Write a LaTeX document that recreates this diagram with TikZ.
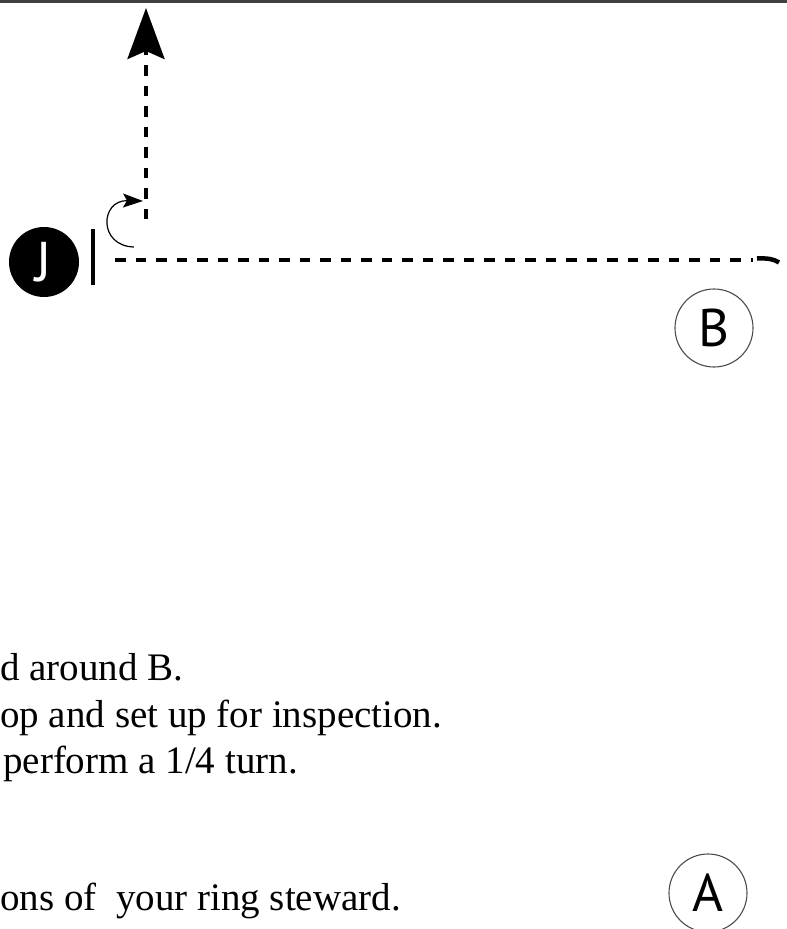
\documentclass[tikz,border=0pt]{standalone}
\usepackage{fontspec}
\setmainfont{Liberation Serif}
\newfontfamily\markerfont{PT Sans}
\usetikzlibrary{arrows.meta}

\begin{document}
\begin{tikzpicture}[x=1pt,y=-1pt,
  rider node/.style={circle,fill=black,text=white,minimum size=70pt,inner sep=0pt,font=\markerfont\fontsize{56}{56}\selectfont},
  letter node/.style={circle,draw=black!70,line width=1.1pt,minimum size=78pt,inner sep=0pt,font=\markerfont\fontsize{53}{53}\selectfont},
  route/.style={line width=4pt,dash pattern=on 10.5pt off 10pt},
  text line/.style={anchor=base west,inner sep=0pt,font=\fontsize{39}{46}\selectfont}]

  \useasboundingbox (0,0) rectangle (787,929);
  \clip (0,0) rectangle (787,929);
  \draw[black!75,line width=2.6pt] (0,1.3) -- (787,1.3);

  \node[rider node] (J) at (44,262) {J};
  \node[letter node] (B) at (714,328) {B};
  \node[letter node] (A) at (708,893) {A};

  \coordinate (BarTop) at (92.5,229);
  \coordinate (BarBottom) at (92.5,285);
  \coordinate (Start) at (115,260);
  \coordinate (Corner) at (753,260);
  \coordinate (BendIn) at (757,258.5);
  \coordinate (BendOut) at (779,262.5);
  \coordinate (Turn) at (146,219);
  \coordinate (Exit) at (146,8);
  \coordinate (SpinFrom) at (134,247);
  \coordinate (SpinTo) at (143,201);

  \draw[line width=4pt] (BarTop) -- (BarBottom);
  \path[route]
    (Start) edge (Corner)
    (Turn) edge[-{Stealth[length=51pt,width=37pt,inset=8pt]}] (Exit);
  \draw[line width=4.5pt] (BendIn) .. controls (767,258) and (774,259) .. (BendOut);
  \draw[line width=1.2pt,-{Stealth[length=20pt,width=14pt,inset=4pt]}]
    (SpinFrom) .. controls (98,246) and (100,200) .. (SpinTo);

  \node[text line] (L1) at (0,680) {d around B.};
  \node[text line] (L2) at (0,727) {op and set up for inspection.};
  \node[text line] (L3) at (3,773) {perform a 1/4 turn.};
  \node[text line] (L4) at (0,910) {ons of~ your ring steward.};

\end{tikzpicture}
\end{document}
